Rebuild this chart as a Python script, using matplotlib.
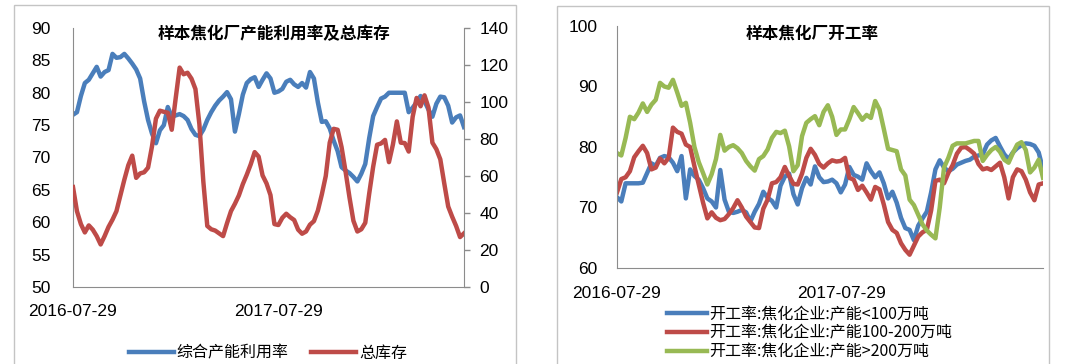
import matplotlib
matplotlib.use('Agg')
import matplotlib.pyplot as plt
from matplotlib.patches import Rectangle
import numpy as np
import pandas as pd

# ---------------- data ----------------
start_date = '2016-07-29'
n_weeks = 100
tick_dates = ['2016-07-29', '2017-07-29']

util_rate = [76.6, 77, 79.5, 81.5, 82, 83, 84, 82.5, 83.2, 83.5,
             86, 85.4, 85.5, 86, 85.3, 84.5, 83.6, 82.2, 78.7, 75.8,
             73.7, 72.2, 74.2, 75, 77.8, 76.3, 76.5, 76.7, 76.4, 75.8,
             74.4, 73.5, 73.3, 74.3, 75.8, 77, 78, 78.8, 79.4, 80.1,
             79, 74, 76.7, 79.7, 81.5, 82.1, 82.4, 80.9, 82, 83,
             82.2, 80, 80.2, 80.6, 81.7, 82, 81.3, 80.9, 81.5, 80.8,
             83.2, 82.2, 78.5, 75.5, 75.6, 74.5, 72.6, 71, 68.5, 68,
             67.6, 67, 66.3, 67.5, 69, 73, 76.4, 77.8, 79.1, 79.4,
             80, 80, 80, 80, 80, 77, 77.7, 78.5, 79.5, 78.7,
             77.4, 76.3, 78.3, 79.4, 79.3, 78, 75.4, 76.2, 76.5, 74.7]

total_stock = [54, 41, 34, 29.5, 33.3, 31, 27.5, 23, 27.5, 32.5,
               36.4, 41, 49.5, 58, 65.8, 71, 59, 61.4, 62, 64.5,
               76, 91, 95.3, 94.7, 94.2, 85, 102, 118.6, 115, 115.8,
               112.6, 107, 88, 57, 33, 31.2, 30.5, 29, 27.5, 34.5,
               41, 45, 49.5, 55.6, 60.7, 66.3, 72.9, 70.5, 60.3, 56,
               49.7, 34, 33.5, 37.4, 39.6, 37.7, 36.2, 31, 28.8, 30,
               33.7, 35.6, 41.3, 50, 60, 78, 85.5, 85, 75.6, 62.6,
               48.5, 35.8, 30, 31.2, 34.7, 50.5, 65, 76.9, 77.6, 79.5,
               67.5, 77, 89.5, 78, 77.8, 73.2, 92, 102.2, 97.7, 103.6,
               97, 78, 74.5, 69, 56, 43.5, 38, 33, 27, 29]

rate_lt100 = [71.7, 71, 74, 74, 74, 74, 74.1, 75.7, 77.3, 76.9,
              78.2, 78.5, 78.3, 77.4, 76, 78.5, 71.5, 76.3, 75.2, 74.6,
              73.2, 71.5, 71, 70, 76.2, 71.3, 69.3, 69.1, 69.3, 69.6,
              69.2, 67.7, 69.3, 70.6, 72.6, 71.6, 71.1, 70, 73.6, 75.1,
              75.6, 72.2, 70.5, 73.2, 74.9, 73.8, 76.8, 75, 74.2, 74.3,
              74.6, 74, 72.5, 73.8, 76.7, 75.4, 75.1, 74.6, 77.3, 76,
              75, 75.8, 74, 71.5, 72.6, 70.8, 68.3, 66.6, 66.3, 64.6,
              67, 68.2, 69.3, 72.5, 76.3, 77.8, 76.6, 76, 76.4, 77.1,
              77.4, 77.7, 77.9, 78.4, 78.6, 78.8, 80.4, 81.1, 81.5, 80.1,
              78.8, 78, 79.1, 79.8, 80.3, 80.6, 80.5, 80.2, 79.1, 76.3]

rate_100_200 = [72.5, 74.7, 75, 76, 78.3, 79.3, 80.2, 79, 76.3, 76.6,
                78.1, 77.3, 78.2, 83.2, 82.5, 82.2, 80.4, 80, 76.8, 73.8,
                70.8, 68.2, 69.2, 68.3, 67.9, 68.1, 68.9, 69.9, 71.2, 70,
                68.5, 67.6, 66.7, 66.6, 69.8, 71.3, 74, 74.2, 75, 76.7,
                75.2, 73.9, 73.8, 75.6, 78.2, 79.7, 78.7, 77.2, 76.6, 77.3,
                77.8, 77.6, 77.7, 78.2, 74.9, 74.6, 72.9, 73.6, 72.5, 71.3,
                73.4, 73, 70.5, 67.6, 66.3, 65.8, 64.1, 63, 62.2, 63.7,
                65.2, 65.9, 66.3, 69.5, 74.4, 74.6, 74, 75.7, 77, 78.9,
                79.9, 80, 79.5, 78.9, 77.2, 76.3, 76.5, 76.2, 76.8, 77.4,
                75, 71.5, 75, 76.3, 76, 74.6, 72.5, 71.2, 73.8, 74]

rate_gt200 = [79, 78.6, 81.5, 85, 84.6, 85.7, 87.2, 85.8, 87, 87.8,
              90.6, 90, 89.8, 91.1, 89, 86.8, 87.3, 84, 80, 77.5,
              75.7, 73.8, 75.5, 78, 82, 79.4, 80, 80.3, 79.8, 79,
              77.7, 76.8, 76.1, 78, 78.5, 79.6, 81.5, 82.5, 82.3, 82.7,
              80.1, 76, 77, 81.8, 84, 84.6, 85.1, 83.6, 85.8, 86.9,
              85, 82, 82.9, 82.9, 84.6, 86.6, 85.6, 84.5, 85.3, 84.8,
              87.6, 86.2, 83, 79.7, 79.5, 79.3, 76.3, 75.3, 71.3, 70.4,
              68.8, 67.2, 66.2, 65.5, 64.9, 70, 76.6, 78.2, 80.2, 80.6,
              80.6, 80.6, 80.8, 81, 81, 77.7, 78.7, 79.5, 80, 79.2,
              77.9, 77.4, 79, 80.4, 80.8, 79.5, 75.8, 76.6, 77.9, 74.9]

left_title = '样本焦化厂产能利用率及总库存'
right_title = '样本焦化厂开工率'
left_names = ['综合产能利用率', '总库存']
right_names = ['开工率:焦化企业:产能<100万吨',
               '开工率:焦化企业:产能100-200万吨',
               '开工率:焦化企业:产能>200万吨']

# ---------------- style ----------------
BLUE = '#4a7ebb'
RED = '#be4b48'
GREEN = '#98b954'
AXC = '#8c8c8c'
CJK = ['Noto Sans CJK SC', 'DejaVu Sans']
NUM = ['Liberation Sans', 'DejaVu Sans']
plt.rcParams['font.family'] = NUM

dates = pd.date_range(start_date, periods=n_weeks, freq='7D')
tdates = pd.to_datetime(tick_dates)

W, H = 1080, 364
fig = plt.figure(figsize=(W / 100, H / 100), dpi=100)

def frac(x0, y0, x1, y1):
    return [x0 / W, 1 - y1 / H, (x1 - x0) / W, (y1 - y0) / H]

# panel borders
for (bx0, bx1, by0) in [(14, 516, 5), (557, 1049, 6)]:
    fig.add_artist(Rectangle((bx0 / W, -0.05), (bx1 - bx0) / W, 1 - by0 / H + 0.05,
                             transform=fig.transFigure, fill=False,
                             edgecolor='#c4c4c4', lw=1.0))

LW = 3.2
TS = 12.5

# ---------------- left chart ----------------
ax1 = fig.add_axes(frac(73, 28, 464, 287))
ax1b = ax1.twinx()
l1, = ax1.plot(dates, util_rate, color=BLUE, lw=LW, solid_joinstyle='round')
l2, = ax1b.plot(dates, total_stock, color=RED, lw=LW, solid_joinstyle='round')
ax1.set_xlim(dates[0], dates[-1])
ax1.set_ylim(50, 90)
ax1b.set_ylim(0, 140)
ax1.set_yticks(np.arange(50, 91, 5))
ax1b.set_yticks(np.arange(0, 141, 20))
ax1.set_xticks(tdates)
ax1.set_xticklabels(tick_dates)
for a in (ax1, ax1b):
    for s in a.spines.values():
        s.set_visible(False)
ax1.spines['left'].set_visible(True)
ax1.spines['bottom'].set_visible(True)
ax1b.spines['right'].set_visible(True)
for s in ('left', 'bottom'):
    ax1.spines[s].set_color(AXC)
ax1b.spines['right'].set_color(AXC)
ax1.tick_params(axis='y', length=0, pad=16, labelsize=TS)
ax1.tick_params(axis='x', length=0, pad=12, labelsize=TS)
ax1b.tick_params(axis='y', length=4, width=1, color=AXC, direction='out', pad=7, labelsize=TS)
fig.text(274 / W, 1 - 34 / H, left_title, ha='center', va='center',
         fontsize=12, fontweight='bold', family=CJK)
fig.legend([l1, l2], left_names, loc='center', bbox_to_anchor=(268 / W, 1 - 353 / H),
           ncol=2, frameon=False, prop={'family': CJK, 'size': 11.5},
           handlelength=2.8, handletextpad=0.2, columnspacing=1.4,
           borderpad=0, borderaxespad=0)

# ---------------- right chart ----------------
ax2 = fig.add_axes(frac(617, 26, 1043, 268))
r1, = ax2.plot(dates, rate_lt100, color=BLUE, lw=LW, solid_joinstyle='round')
r2, = ax2.plot(dates, rate_100_200, color=RED, lw=LW, solid_joinstyle='round')
r3, = ax2.plot(dates, rate_gt200, color=GREEN, lw=LW, solid_joinstyle='round')
ax2.set_xlim(dates[0], dates[-1])
ax2.set_ylim(60, 100)
ax2.set_yticks(np.arange(60, 101, 10))
ax2.set_xticks(tdates)
ax2.set_xticklabels(tick_dates)
ax2.spines['top'].set_visible(False)
ax2.spines['right'].set_visible(False)
ax2.spines['left'].set_color(AXC)
ax2.spines['bottom'].set_color(AXC)
ax2.tick_params(axis='y', length=0, pad=14, labelsize=TS)
ax2.tick_params(axis='x', length=0, pad=13, labelsize=TS)
fig.text(812 / W, 1 - 34 / H, right_title, ha='center', va='center',
         fontsize=12, fontweight='bold', family=CJK)
fig.legend([r1, r2, r3], right_names, loc='upper left',
           bbox_to_anchor=(667 / W, 1 - 306 / H),
           ncol=1, frameon=False, prop={'family': CJK, 'size': 11.5},
           handlelength=2.5, handletextpad=0.15, labelspacing=0.1,
           borderpad=0, borderaxespad=0)

fig.savefig('out.png', dpi=100, facecolor='white')
